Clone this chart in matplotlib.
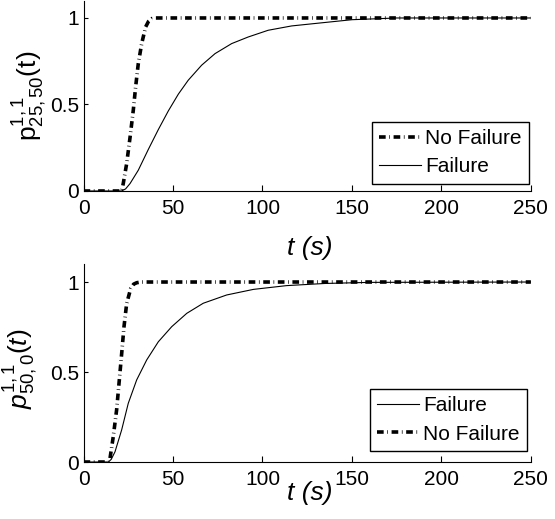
import matplotlib
matplotlib.use("Agg")
import matplotlib.pyplot as plt

# --- data ---
t_nf_top = [0, 21.3, 22.2, 24.1, 26.0, 27.8, 29.1, 30.6, 32.5, 34.7, 36.3, 38.1, 40.4, 250]
p_nf_top = [0, 0, 0.043, 0.158, 0.31, 0.466, 0.6, 0.736, 0.852, 0.948, 0.98, 0.996, 1.0, 1.0]

t_f_top = [0, 21.3, 23.5, 26.0, 30.6, 36.2, 41.8, 47.4, 53.0, 58.5, 66.0, 73.5,
           82.8, 92.0, 103.2, 116.3, 129.3, 150, 175, 250]
p_f_top = [0, 0, 0.012, 0.043, 0.12, 0.24, 0.355, 0.463, 0.56, 0.64, 0.727, 0.794,
           0.852, 0.89, 0.929, 0.954, 0.968, 0.99, 1.0, 1.0]

t_nf_bot = [0, 13.9, 14.8, 16.6, 18.5, 20.0, 21.3, 22.6, 24.1, 26.4, 28.0, 29.7, 32.0, 250]
p_nf_bot = [0, 0, 0.02, 0.14, 0.29, 0.456, 0.6, 0.75, 0.88, 0.965, 0.988, 0.996, 1.0, 1.0]

t_f_bot = [0, 13.9, 15.5, 17.6, 21.3, 25.0, 29.7, 35.3, 41.8, 49.3, 57.7, 66.9,
           80.0, 94.9, 113.5, 135, 160, 250]
p_f_bot = [0, 0, 0.015, 0.057, 0.178, 0.326, 0.456, 0.567, 0.668, 0.752, 0.826, 0.882,
           0.928, 0.959, 0.98, 0.992, 0.998, 1.0]

xticks = [0, 50, 100, 150, 200, 250]
yticks = [0, 0.5, 1]
ytick_labels = ['0', '0.5', '1']

plt.rcParams['font.family'] = ['Liberation Sans', 'DejaVu Sans']
plt.rcParams['mathtext.fontset'] = 'custom'
plt.rcParams['mathtext.rm'] = 'Liberation Sans'
plt.rcParams['mathtext.it'] = 'Liberation Sans:italic'
plt.rcParams['lines.scale_dashes'] = False

fig = plt.figure(figsize=(5.55, 5.19), dpi=100)
ax1 = fig.add_axes([0.1505, 0.632, 0.806, 0.3667])
ax2 = fig.add_axes([0.1505, 0.1098, 0.806, 0.3815])

dashdot = (0, (4.8, 2.6, 0.5, 2.6))


def style(ax):
    ax.set_xlim(0, 250)
    ax.set_ylim(0, 1.1)
    ax.spines['top'].set_visible(False)
    ax.spines['right'].set_visible(False)
    ax.set_xticks(xticks)
    ax.set_yticks(yticks)
    ax.set_yticklabels(ytick_labels)
    ax.tick_params(axis='x', direction='in', length=4, pad=6, labelsize=15)
    ax.tick_params(axis='y', direction='in', length=3, pad=3, labelsize=15)


def add_legend(ax, anchor):
    ax.legend(loc='lower right', bbox_to_anchor=anchor, borderaxespad=0,
              fontsize=15, fancybox=False, edgecolor='black', framealpha=1,
              handlelength=2.0, handletextpad=0.2, labelspacing=0.45,
              borderpad=0.35)


# top panel
ax1.plot(t_nf_top, p_nf_top, color='black', lw=2.6, linestyle=dashdot, label='No Failure')
ax1.plot(t_f_top, p_f_top, color='black', lw=0.8, label='Failure')
style(ax1)
ax1.set_ylabel(r'$\mathrm{p}^{1,1}_{25,50}\mathrm{(t)}$', fontsize=19, va='center')
ax1.yaxis.set_label_coords(-0.12, 0.5)
ax1.set_xlabel('t (s)', fontsize=19, style='italic', va='center')
ax1.xaxis.set_label_coords(0.506, -0.30)
add_legend(ax1, (0.995, 0.038))

# bottom panel
ax2.plot(t_f_bot, p_f_bot, color='black', lw=0.8, label='Failure')
ax2.plot(t_nf_bot, p_nf_bot, color='black', lw=2.6, linestyle=dashdot, label='No Failure')
style(ax2)
ax2.set_ylabel(r'$p^{1,1}_{50,0}(t)$', fontsize=19, va='center')
ax2.yaxis.set_label_coords(-0.14, 0.47)
ax2.set_xlabel('t (s)', fontsize=19, style='italic', va='center')
ax2.xaxis.set_label_coords(0.506, -0.157)
add_legend(ax2, (0.991, 0.056))

fig.savefig('out.png', dpi=100)
